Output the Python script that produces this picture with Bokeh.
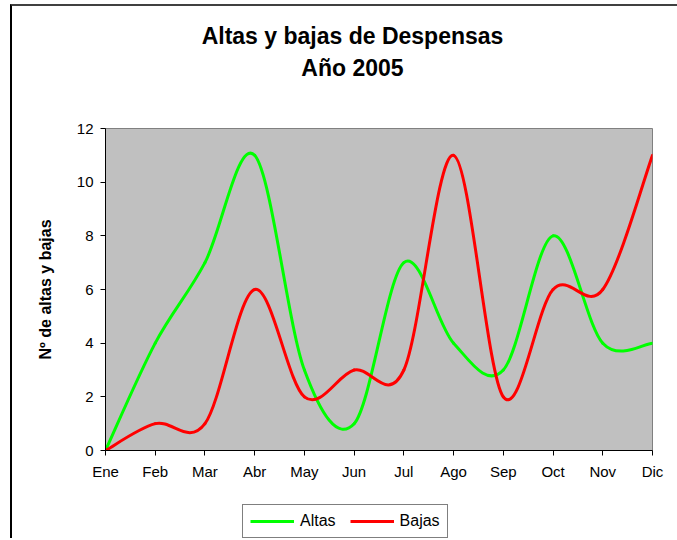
from bokeh.plotting import figure
from bokeh.models import (Range1d, FixedTicker, Legend, LegendItem, Label,
                          ColumnDataSource)
from bokeh.layouts import column
from bokeh.embed import file_html
from bokeh.resources import INLINE

months = ["Ene", "Feb", "Mar", "Abr", "May", "Jun", "Jul", "Ago", "Sep", "Oct", "Nov", "Dic"]
altas = [0, 4, 7, 11, 3, 1, 7, 4, 3, 8, 4, 4]
bajas = [0, 1, 1, 6, 2, 3, 3, 11, 2, 6, 6, 11]
y_ticks = [0, 2, 4, 6, 8, 10, 12]
title_1 = "Altas y bajas de Despensas"
title_2 = "Año 2005"
y_label = "Nº de altas y bajas"
series_names = ["Altas", "Bajas"]
series_colors = ["#00FF00", "#FF0000"]

FONT = "Liberation Sans"
W = 665


def smooth_segments(ys):
    """Bezier control points (Catmull-Rom, as Excel's smoothed lines)."""
    n = len(ys)
    xs = list(range(n))

    def at(i):
        i = min(max(i, 0), n - 1)
        return xs[i], ys[i]

    d = dict(x0=[], y0=[], x1=[], y1=[], cx0=[], cy0=[], cx1=[], cy1=[])
    for i in range(n - 1):
        xm, ym = at(i - 1)
        xa, ya = at(i)
        xb, yb = at(i + 1)
        xp, yp = at(i + 2)
        d["x0"].append(xa)
        d["y0"].append(ya)
        d["x1"].append(xb)
        d["y1"].append(yb)
        d["cx0"].append(xa + (xb - xm) / 6)
        d["cy0"].append(ya + (yb - ym) / 6)
        d["cx1"].append(xb - (xp - xa) / 6)
        d["cy1"].append(yb - (yp - ya) / 6)
    return ColumnDataSource(d)


def blank_fig(h):
    f = figure(width=W, height=h, output_backend="svg", toolbar_location=None,
               x_axis_type=None, y_axis_type=None, min_border=0,
               outline_line_color=None, background_fill_color="white",
               border_fill_color="white", x_range=Range1d(0, 1), y_range=Range1d(0, 1))
    f.xgrid.visible = False
    f.ygrid.visible = False
    return f


# ---- title strip (its frame is aligned with the main chart's frame) ----
top = blank_fig(112)
for txt, yy in ((title_1, 83), (title_2, 51)):
    top.add_layout(Label(x=247, y=yy, x_units="screen", y_units="screen", text=txt,
                         text_align="center", text_baseline="alphabetic",
                         text_font=FONT, text_font_size="23px",
                         text_font_style="bold", text_color="black"))

# ---- main chart ----
p = figure(width=W, height=377,
           x_range=Range1d(0, len(months) - 1), y_range=Range1d(0, 12),
           output_backend="svg", toolbar_location=None,
           min_border_left=93, min_border_right=25,
           min_border_top=10, min_border_bottom=45,
           background_fill_color="#C0C0C0", border_fill_color="white",
           outline_line_color="#808080", outline_line_width=1)
p.xgrid.visible = False
p.ygrid.visible = False

xa = p.xaxis[0]
xa.ticker = FixedTicker(ticks=list(range(len(months))))
xa.major_label_overrides = {i: m for i, m in enumerate(months)}
ya = p.yaxis[0]
ya.ticker = FixedTicker(ticks=y_ticks)
ya.axis_label = y_label
ya.axis_label_text_font = FONT
ya.axis_label_text_font_size = "16px"
ya.axis_label_text_font_style = "bold"
ya.axis_label_text_color = "black"
ya.axis_label_standoff = 20

for ax in (xa, ya):
    ax.axis_line_color = "black"
    ax.axis_line_width = 1
    ax.major_tick_line_color = "black"
    ax.major_tick_in = 0
    ax.major_tick_out = 5
    ax.minor_tick_line_color = None
    ax.major_label_text_font = FONT
    ax.major_label_text_font_size = "15px"
    ax.major_label_text_color = "black"
    ax.major_label_standoff = 7

for ys, col in ((altas, series_colors[0]), (bajas, series_colors[1])):
    p.bezier(x0="x0", y0="y0", x1="x1", y1="y1", cx0="cx0", cy0="cy0",
             cx1="cx1", cy1="cy1", source=smooth_segments(ys),
             line_color=col, line_width=3, line_cap="round")

# ---- legend strip ----
bottom = blank_fig(43)
items = []
for name, ys, col in zip(series_names, (altas, bajas), series_colors):
    r = bottom.line(x=list(range(len(months))), y=ys, line_color=col,
                    line_width=3, visible=False)
    items.append(LegendItem(label=name, renderers=[r]))
legend = Legend(items=items, orientation="horizontal", location=(137, 0), margin=0,
                border_line_color="black", border_line_width=1,
                background_fill_color="white", background_fill_alpha=1,
                inactive_fill_alpha=0,
                label_text_font=FONT, label_text_font_size="16px",
                label_text_color="black",
                glyph_width=44, glyph_height=18, label_standoff=6,
                spacing=14, padding=7)
bottom.add_layout(legend, "center")

layout = column(top, p, bottom, spacing=0,
                styles={"margin-left": "10px", "margin-top": "4px",
                        "border-left": "2px solid #000000",
                        "border-top": "2px solid #404040"})

open("out.html", "w").write(file_html(layout, INLINE))
